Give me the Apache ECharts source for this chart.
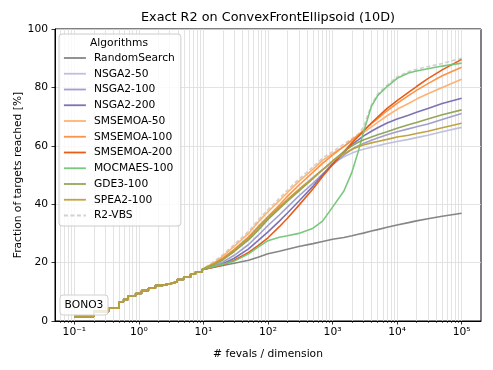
<!DOCTYPE html>
<html><head><meta charset="utf-8">
<script src="https://cdn.jsdelivr.net/npm/echarts@6/dist/echarts.min.js"></script>
<style>html,body{margin:0;padding:0;background:#fff}#c{width:493px;height:370px}</style>
</head><body><div id="c"></div>
<script>
// ---- data ----
const algorithms = ['RandomSearch','NSGA2-50','NSGA2-100','NSGA2-200','SMSEMOA-50','SMSEMOA-100','SMSEMOA-200','MOCMAES-100','GDE3-100','SPEA2-100','R2-VBS'];
const colors = ['#7f7f7f','#bcbddc','#9e9ac8','#756bb1','#fdae6b','#fd8d3c','#e6550d','#74c476','#8ca252','#bd9e39','#cfcfcf'];

// shared initial ECDF steps (all algorithms coincide here)
const stepFevals  = [0.1, 0.2, 0.34, 0.49, 0.58, 0.68, 0.89, 1.1, 1.4, 1.8, 2.3, 3.1, 3.9, 4.95, 6.3, 7.5, 9.5];
const stepReached = [1.5, 3.3, 4.4, 6.6, 7.4, 8.6, 9.4, 10.4, 11.2, 12.2, 12.8, 13.4, 14.2, 15.0, 16.0, 16.8, 17.6];

const fevals = [10, 15, 20, 30, 50, 70, 100, 150, 200, 300, 500, 700, 1000, 1500, 2000, 2500, 3000, 4000, 5000, 7000, 10000, 15000, 20000, 30000, 50000, 100000];

const randomSearch = [18.0, 18.5, 19.0, 19.8, 20.8, 21.8, 23.0, 23.9, 24.6, 25.5, 26.5, 27.2, 28.0, 28.6, 29.2, 29.7, 30.1, 30.8, 31.3, 32.1, 32.9, 33.7, 34.3, 35.0, 35.9, 36.9];
const nsga2_50    = [18.0, 19.5, 21.0, 24.0, 28.0, 31.5, 35.0, 38.8, 41.5, 45.0, 49.3, 51.8, 54.0, 56.2, 57.5, 58.3, 58.8, 59.5, 60.0, 60.8, 61.5, 62.2, 62.8, 63.6, 64.8, 66.3];
const nsga2_100   = [18.0, 19.0, 20.2, 22.5, 26.2, 29.3, 32.7, 36.3, 39.0, 42.8, 47.2, 50.3, 53.5, 56.8, 58.8, 60.0, 60.8, 61.9, 62.7, 63.8, 64.8, 65.8, 66.5, 67.5, 69.0, 71.1];
const nsga2_200   = [18.0, 18.7, 19.6, 21.5, 24.7, 27.5, 30.5, 34.2, 37.0, 41.0, 46.2, 50.0, 53.8, 57.8, 60.5, 62.0, 63.3, 65.0, 66.2, 67.8, 69.2, 70.5, 71.5, 72.8, 74.5, 76.3];
const smsemoa_50  = [18.0, 20.1, 22.2, 25.6, 30.0, 33.8, 37.4, 41.2, 44.0, 47.8, 52.0, 55.0, 57.3, 59.8, 61.7, 63.2, 64.5, 66.5, 68.0, 70.3, 72.5, 74.5, 76.0, 77.8, 80.0, 82.8];
const smsemoa_100 = [18.0, 19.8, 21.5, 24.5, 28.8, 32.3, 35.8, 39.7, 42.7, 46.5, 51.0, 54.0, 56.8, 59.8, 62.0, 63.7, 65.2, 67.6, 69.3, 72.0, 74.5, 77.2, 79.0, 81.3, 84.0, 86.9];
const smsemoa_200 = [18.0, 18.5, 19.2, 20.8, 23.5, 25.8, 28.5, 32.3, 35.2, 39.6, 45.3, 49.5, 53.5, 58.0, 61.0, 63.2, 65.0, 67.8, 69.8, 72.8, 75.5, 78.3, 80.3, 83.0, 86.0, 89.6];
const mocmaes_100 = [18.0, 18.8, 19.4, 20.5, 23.0, 25.3, 27.5, 28.7, 29.2, 30.0, 31.8, 34.2, 39.0, 44.5, 51.0, 58.0, 64.5, 73.5, 77.2, 80.3, 83.1, 84.9, 85.6, 86.4, 87.3, 88.3];
const gde3_100    = [18.0, 19.5, 21.0, 23.8, 27.8, 31.0, 34.8, 38.5, 41.0, 44.5, 48.8, 51.8, 54.8, 58.0, 60.0, 61.2, 62.0, 63.0, 63.8, 64.8, 66.0, 67.2, 68.0, 69.2, 70.6, 72.3];
const spea2_100   = [18.0, 19.8, 21.3, 24.3, 28.5, 31.9, 35.5, 39.0, 41.6, 45.0, 49.0, 51.8, 54.8, 57.3, 58.8, 59.7, 60.3, 61.0, 61.5, 62.2, 63.0, 63.6, 64.2, 65.0, 66.2, 67.7];
const r2_vbs      = [18.2, 20.6, 22.7, 26.2, 30.7, 34.5, 38.2, 42.0, 44.8, 48.6, 52.8, 55.8, 58.0, 60.6, 62.5, 64.0, 66.3, 74.0, 77.8, 80.8, 83.6, 85.4, 86.2, 87.1, 88.2, 90.0];

const seriesValues = [randomSearch, nsga2_50, nsga2_100, nsga2_200, smsemoa_50, smsemoa_100, smsemoa_200, mocmaes_100, gde3_100, spea2_100, r2_vbs];

const xTickValues = [0.1, 1, 10, 100, 1000, 10000, 100000];
const yTickValues = [0, 20, 40, 60, 80, 100];

// ---- build ----
const FONT = 'DejaVu Sans';
const xMin = Math.pow(10, -1.3), xMax = Math.pow(10, 5.3);
const sup = {'-':'\u207B','0':'\u2070','1':'\u00B9','2':'\u00B2','3':'\u00B3','4':'\u2074','5':'\u2075','6':'\u2076','7':'\u2077','8':'\u2078','9':'\u2079'};
function fmt(v){
  const e = Math.log10(v); const r = Math.round(e);
  if (Math.abs(e - r) > 1e-6) return '';
  return '10' + String(r).split('').map(c => sup[c]).join('');
}
function buildData(vals){
  const pts = [];
  for (let i = 0; i < stepFevals.length; i++){
    pts.push([stepFevals[i], stepReached[i]]);
    const nx = i + 1 < stepFevals.length ? stepFevals[i+1] : fevals[0];
    pts.push([nx, stepReached[i]]);
  }
  for (let j = 0; j < fevals.length; j++) pts.push([fevals[j], vals[j]]);
  return pts;
}
const minorVals = [];
for (let k = -2; k <= 5; k++) for (let m = 2; m <= 9; m++){
  const v = m * Math.pow(10, k);
  if (v > xMin && v < xMax) minorVals.push(v);
}

const series = [];
// draw R2-VBS first so it stays underneath
const order = [10, 0, 1, 2, 3, 4, 5, 6, 7, 8, 9];
order.forEach((idx, n) => {
  const s = {
    type: 'line', name: algorithms[idx], data: buildData(seriesValues[idx]),
    symbol: 'none', showSymbol: false, z: 3,
    lineStyle: {color: colors[idx], width: 1.6, type: idx === 10 ? [4, 2.5] : 'solid', opacity: 0.95},
    itemStyle: {color: colors[idx]},
    emphasis: {disabled: true}
  };
  if (n === 0){
    s.markLine = {
      silent: true, symbol: 'none', z: 1, animation: false,
      label: {show: false},
      lineStyle: {color: '#dcdcdc', width: 0.8, type: 'solid'},
      emphasis: {disabled: true},
      data: minorVals.map(v => ({xAxis: v}))
    };
  }
  series.push(s);
});

const chart = echarts.init(document.getElementById('c'), null, {renderer: 'canvas'});
chart.setOption({
  animation: false,
  backgroundColor: '#ffffff',
  textStyle: {fontFamily: FONT},
  grid: {left: 55, right: 12, top: 29, bottom: 49, show: true, borderColor: '#000', borderWidth: 1, backgroundColor: 'transparent'},
  xAxis: [{
    type: 'log', logBase: 10, min: xMin, max: xMax, position: 'bottom',
    name: '# fevals / dimension', nameLocation: 'middle', nameGap: 28, nameMoveOverlap: false,
    nameTextStyle: {fontFamily: FONT, fontSize: 10.7, color: '#000'},
    axisLine: {show: true, lineStyle: {color: '#000', width: 1}},
    axisTick: {show: true, length: 3.5, lineStyle: {color: '#000', width: 0.8}, customValues: xTickValues},
    axisLabel: {formatter: fmt, color: '#000', fontFamily: FONT, fontSize: 10.7, margin: 6, customValues: xTickValues},
    splitLine: {show: true, lineStyle: {color: '#dcdcdc', width: 0.8}}
  }, {
    type: 'log', logBase: 10, min: xMin, max: xMax, position: 'bottom',
    axisLine: {show: false},
    axisTick: {show: true, length: 2, lineStyle: {color: '#000', width: 0.6}, customValues: minorVals},
    axisLabel: {show: false},
    splitLine: {show: false}
  }],
  yAxis: {
    type: 'value', min: 0, max: 100, interval: 20,
    name: 'Fraction of targets reached [%]', nameLocation: 'middle', nameGap: 31, nameMoveOverlap: false,
    nameTextStyle: {fontFamily: FONT, fontSize: 10.7, color: '#000'},
    axisLine: {show: true, lineStyle: {color: '#000', width: 1}},
    axisTick: {show: true, length: 3.5, lineStyle: {color: '#000', width: 0.8}},
    axisLabel: {color: '#000', fontFamily: FONT, fontSize: 10.7, margin: 7},
    splitLine: {show: true, lineStyle: {color: '#dcdcdc', width: 0.8}}
  },
  legend: {
    data: algorithms, orient: 'vertical', left: 59, top: 34,
    padding: [18.5, 6, 5, 4], itemWidth: 22, itemHeight: 12, itemGap: 4.75,
    selectedMode: false,
    itemStyle: {opacity: 0},
    lineStyle: {width: 1.8},
    backgroundColor: 'rgba(255,255,255,0.8)', borderColor: '#cccccc', borderWidth: 1, borderRadius: 3,
    textStyle: {fontFamily: FONT, fontSize: 10.7, color: '#000', padding: [0, 0, 0, 3]}
  },
  graphic: [
    {type: 'text', z: 100, x: 268, y: 17.5, style: {text: 'Exact R2 on ConvexFrontEllipsoid (10D)', fill: '#000', font: '12.8px "DejaVu Sans"', align: 'center', verticalAlign: 'middle'}},
    {type: 'text', z: 100, x: 119, y: 43, style: {text: 'Algorithms', fill: '#000', font: '10.7px "DejaVu Sans"', align: 'center', verticalAlign: 'middle'}},
    {type: 'rect', z: 100, shape: {x: 60, y: 295, width: 48, height: 20, r: 3}, style: {fill: 'rgba(255,255,255,0.8)', stroke: '#d0d0d0', lineWidth: 1}},
    {type: 'text', z: 101, x: 84, y: 305.5, style: {text: 'BONO3', fill: '#000', font: '10.7px "DejaVu Sans"', align: 'center', verticalAlign: 'middle'}}
  ],
  series: series
});
</script></body></html>
